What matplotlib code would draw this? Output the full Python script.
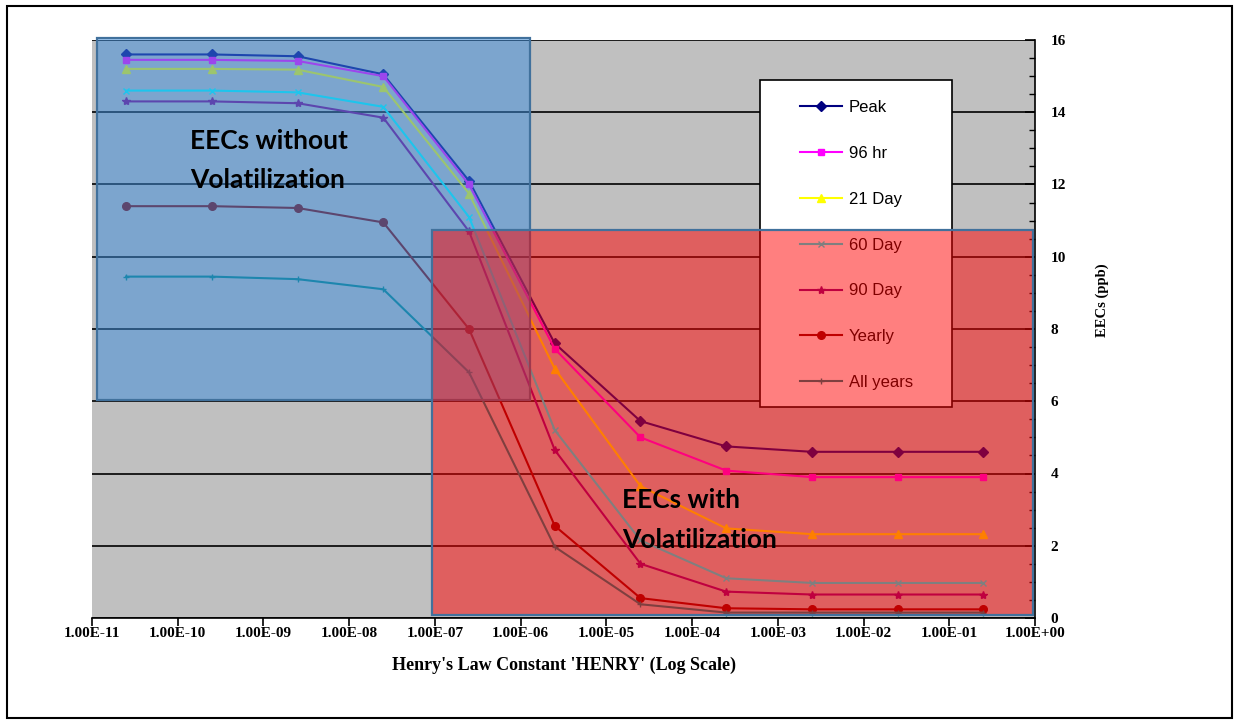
import matplotlib
matplotlib.use("Agg")
import matplotlib.pyplot as plt
from matplotlib.patches import Rectangle
from matplotlib.ticker import FixedLocator, MultipleLocator, NullLocator, FuncFormatter

# Henry's law constant values (x) for each model run
henry = [2.5e-11, 2.5e-10, 2.5e-9, 2.5e-8, 2.5e-7, 2.5e-6, 2.5e-5, 2.5e-4, 2.5e-3, 2.5e-2, 2.5e-1]

# EECs (ppb)
peak = [15.6, 15.6, 15.55, 15.05, 12.1, 7.6, 5.45, 4.75, 4.6, 4.6, 4.6]
hr96 = [15.45, 15.45, 15.42, 15.0, 12.0, 7.45, 5.0, 4.08, 3.9, 3.9, 3.9]
day21 = [15.2, 15.2, 15.18, 14.7, 11.75, 6.9, 3.65, 2.48, 2.32, 2.32, 2.32]
day60 = [14.6, 14.6, 14.55, 14.15, 11.1, 5.2, 2.15, 1.1, 0.97, 0.97, 0.97]
day90 = [14.3, 14.3, 14.25, 13.85, 10.7, 4.65, 1.5, 0.73, 0.65, 0.65, 0.65]
yearly = [11.4, 11.4, 11.35, 10.95, 8.0, 2.55, 0.55, 0.27, 0.24, 0.24, 0.24]
allyears = [9.45, 9.45, 9.38, 9.1, 6.8, 1.97, 0.38, 0.15, 0.15, 0.15, 0.15]

series = [
    ("Peak", peak, "#000080", "D", 5),
    ("96 hr", hr96, "#FF00FF", "s", 5),
    ("21 Day", day21, "#FFFF00", "^", 6),
    ("60 Day", day60, "#00FFFF", "x", 4),
    ("90 Day", day90, "#800080", "*", 6),
    ("Yearly", yearly, "#800000", "o", 5.5),
    ("All years", allyears, "#008080", "+", 5),
]

x_ticks = [1e-11, 1e-10, 1e-9, 1e-8, 1e-7, 1e-6, 1e-5, 1e-4, 1e-3, 1e-2, 1e-1, 1e0]

fig = plt.figure(figsize=(12.38, 7.23), dpi=100)
ax = fig.add_axes([92 / 1238, 1 - 618 / 723, 943 / 1238, 578 / 723])
ax.set_facecolor("#C0C0C0")

for name, vals, col, mk, ms in series:
    ax.plot(henry, vals, color=col, lw=1.5, marker=mk, markersize=ms,
            markeredgecolor=col, markerfacecolor=col, label=name, zorder=3)

ax.set_xscale("log")
ax.set_xlim(1e-11, 1e0)
ax.set_ylim(0, 16)
ax.xaxis.set_major_locator(FixedLocator(x_ticks))
ax.xaxis.set_minor_locator(NullLocator())
ax.xaxis.set_major_formatter(FuncFormatter(lambda v, p: f"{v:.2E}"))
ax.yaxis.set_major_locator(MultipleLocator(2))
ax.yaxis.set_minor_locator(MultipleLocator(0.5))
ax.yaxis.tick_right()
ax.yaxis.set_label_position("right")
ax.grid(axis="y", which="major", color="black", lw=1.2, zorder=1)
ax.set_axisbelow(True)

for s in ["left", "top"]:
    ax.spines[s].set_visible(False)
ax.spines["right"].set_linewidth(1.2)
ax.spines["bottom"].set_linewidth(1.2)

ax.tick_params(axis="x", direction="out", length=6, width=1.2, pad=0.5)
ax.tick_params(axis="y", which="major", direction="in", length=7, width=1.2, pad=11)
ax.tick_params(axis="y", which="minor", direction="in", length=4, width=1)
for lab in ax.get_xticklabels() + ax.get_yticklabels():
    lab.set_fontfamily("Liberation Serif")
    lab.set_fontsize(11)
    lab.set_fontweight("bold")

ax.set_xlabel("Henry's Law Constant 'HENRY' (Log Scale)", fontfamily="Liberation Serif",
              fontsize=13, fontweight="bold", labelpad=12)
ax.set_ylabel("EECs (ppb)", fontfamily="Liberation Serif", fontsize=10.5, fontweight="bold")
ax.yaxis.set_label_coords(1.064, 0.55)

# legend box (drawn under the overlays)
ax.add_patch(Rectangle((0.708, 0.365), 0.204, 0.566, transform=ax.transAxes,
                       facecolor="white", edgecolor="black", lw=1.2, zorder=4))
leg = ax.legend(loc="upper left", bbox_to_anchor=(0.751, 0.896), frameon=False,
                borderpad=0, borderaxespad=0, handlelength=2.5, handletextpad=0.4,
                labelspacing=1.85, prop={"family": "Liberation Sans", "size": 12})
leg.set_zorder(4.5)

# shaded regions
ax.add_patch(Rectangle((0.0053, 0.377), 0.4592, 0.627, transform=ax.transAxes,
                       facecolor="#3A8CDC", alpha=0.5, edgecolor="none", zorder=6, clip_on=False))
ax.add_patch(Rectangle((0.0053, 0.377), 0.4592, 0.627, transform=ax.transAxes,
                       facecolor="none", edgecolor="#41719C", lw=1.6, zorder=6.1, clip_on=False))
ax.add_patch(Rectangle((0.3605, 0.0052), 0.6375, 0.6658, transform=ax.transAxes,
                       facecolor="#FF0000", alpha=0.5, edgecolor="none", zorder=6.2, clip_on=False))
ax.add_patch(Rectangle((0.3605, 0.0052), 0.6375, 0.6658, transform=ax.transAxes,
                       facecolor="none", edgecolor="#41719C", lw=1.6, zorder=6.3, clip_on=False))

note = dict(transform=ax.transAxes, fontfamily="Lato", fontweight="bold", fontsize=19,
            ha="left", va="center", color="black", zorder=8)
ax.text(0.104, 0.825, "EECs without", **note)
ax.text(0.104, 0.758, "Volatilization", **note)
ax.text(0.562, 0.204, "EECs with", **note)
ax.text(0.562, 0.135, "Volatilization", **note)

# outer border of the picture
fig.patches.append(Rectangle((7 / 1238, 1 - 718 / 723), 1225 / 1238, 712 / 723,
                             transform=fig.transFigure, facecolor="none",
                             edgecolor="black", lw=1.5))

fig.savefig("out.png", dpi=100)
